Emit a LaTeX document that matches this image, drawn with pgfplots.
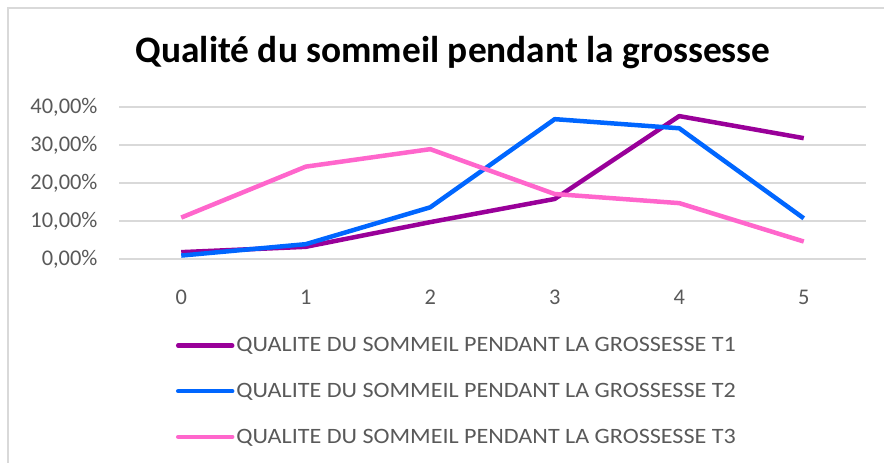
\documentclass[border=0pt]{standalone}
\usepackage{pgfplots}
\pgfplotsset{compat=1.18}
\usepackage{fontspec}
\setmainfont{Carlito}
\newfontfamily\legfont[FakeStretch=1.1]{Carlito}
\definecolor{tpurple}{HTML}{990099}
\definecolor{tblue}{HTML}{0066FF}
\definecolor{tpink}{HTML}{FF66CC}
\definecolor{tgray}{HTML}{595959}
\definecolor{gridc}{HTML}{D9D9D9}
\begin{document}
\begin{tikzpicture}[x=1bp,y=1bp]
\path[use as bounding box] (0,0) rectangle (884,463);
\draw[gridc, line width=1.5bp] (8,0) -- (8,455) -- (884,455);
\node[font=\bfseries\fontsize{37.5}{42}\selectfont] at (453,410) {Qualité du sommeil pendant la grossesse};
\begin{axis}[
  at={(119bp,204bp)}, anchor=south west,
  scale only axis, width=747bp, height=152bp,
  xmin=-0.5, xmax=5.5, ymin=0, ymax=40,
  xtick={0,1,2,3,4,5},
  ytick={0,10,20,30,40},
  yticklabels={{0,00\%},{10,00\%},{20,00\%},{30,00\%},{40,00\%}},
  /pgf/number format/assume math mode=true,
  ymajorgrids, major grid style={gridc, line width=1.5bp},
  axis line style={draw=none},
  major tick length=0pt,
  tick label style={font=\fontsize{22.5}{26}\selectfont, text=tgray},
  xticklabel style={anchor=base, yshift=-46bp},
  yticklabel style={anchor=east, xshift=-18bp},
  clip=false,
  legend style={at={(0.072,-0.49)}, anchor=north west, draw=none, fill=none,
    font=\legfont\fontsize{22}{25}\selectfont, text=tgray, row sep=26bp,
    /tikz/every odd column/.style={column sep=0bp}},
  legend cell align=left,
  legend image code/.code={\draw[#1, line cap=round] (0bp,0bp) -- (54bp,0bp);},
  every axis plot/.append style={line width=4.5bp, line join=round},
]
\addplot[tpurple] coordinates {(0,1.8) (1,3.2) (2,9.7) (3,15.8) (4,37.6) (5,31.8)};
\addlegendentry{QUALITE DU SOMMEIL PENDANT LA GROSSESSE T1}
\addplot[tblue] coordinates {(0,0.9) (1,3.9) (2,13.6) (3,36.8) (4,34.4) (5,10.7)};
\addlegendentry{QUALITE DU SOMMEIL PENDANT LA GROSSESSE T2}
\addplot[tpink] coordinates {(0,10.9) (1,24.3) (2,28.9) (3,17.1) (4,14.7) (5,4.6)};
\addlegendentry{QUALITE DU SOMMEIL PENDANT LA GROSSESSE T3}
\end{axis}
\end{tikzpicture}
\end{document}
